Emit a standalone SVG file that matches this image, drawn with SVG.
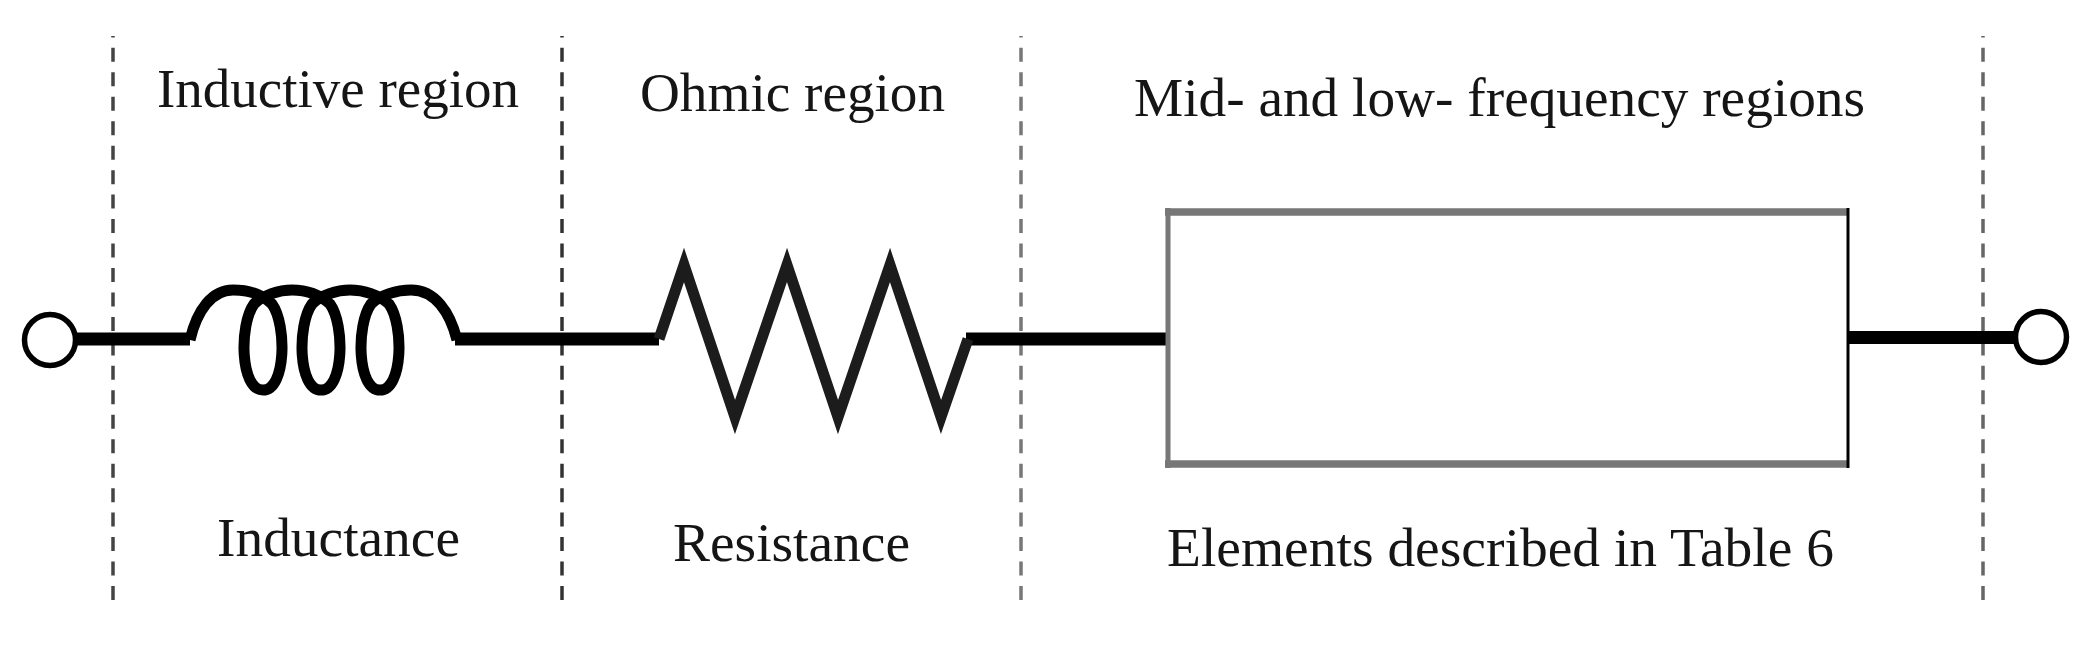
<svg xmlns="http://www.w3.org/2000/svg" width="2088" height="655" viewBox="0 0 2088 655">
<style>
.t{font-family:"Liberation Serif","Times New Roman",serif;font-size:55px;fill:#151515}
.d{fill:none;stroke-width:3.500;stroke-dasharray:14 10.460;stroke-dashoffset:12.600}
.w{fill:none;stroke:#000;stroke-width:13}
.c{fill:#fff;stroke:#000;stroke-width:5.500}
.s{fill:none;stroke:#000;stroke-width:11}
</style>
<rect width="2088" height="655" fill="#fff"/>
<g id="boundaries">
<line class="d" x1="113" y1="36" x2="113" y2="600" stroke="#444"/>
<line class="d" x1="562" y1="36" x2="562" y2="600" stroke="#333"/>
<line class="d" x1="1021" y1="36" x2="1021" y2="600" stroke="#777"/>
<line class="d" x1="1983" y1="36" x2="1983" y2="600" stroke="#666"/>
</g>
<g id="connectors">
<line class="w" x1="76" y1="339" x2="190" y2="339"/>
<line class="w" x1="455" y1="339" x2="659" y2="339"/>
<line class="w" x1="966" y1="339" x2="1167" y2="339"/>
<line class="w" x1="1849" y1="337.500" x2="2016" y2="337.500" stroke-width="15"/>
</g>
<g id="terminal-left"><ellipse class="c" cx="50" cy="340" rx="25.500" ry="25.500"/></g>
<g id="inductor">
<path class="s" d="M190 340C197 310 212 290 233 290C250 290 263 295 272 304C287 325 286 390 263 390C240 390 239 325 254 304C263 295 279 290 292 290C306 290 320 295 330 304C345 325 344 390 321 390C298 390 297 325 312 304C321 295 337 290 350 290C364 290 379 295 389 304C404 325 403 390 380 390C357 390 356 325 371 304C380 295 397 290 411 290C435 290 450 312 457 340"/>
</g>
<g id="resistor">
<path d="M659 339L684 265L735 417L787 265L838 417L890 265L941 417L968 339" fill="none" stroke="#1c1c1c" stroke-width="11" stroke-miterlimit="10"/>
</g>
<g id="element-box">
<rect x="1167" y="212" width="682" height="252" fill="#fff"/>
<path d="M1165 212H1849M1165 464H1849" fill="none" stroke="#777" stroke-width="7.500"/>
<line x1="1168" y1="208" x2="1168" y2="468" stroke="#777" stroke-width="5"/>
<line x1="1848" y1="208" x2="1848" y2="468" stroke="#000" stroke-width="3"/>
</g>
<g id="terminal-right"><ellipse class="c" cx="2041" cy="337" rx="25.500" ry="25.500"/></g>
<g id="labels">
<text class="t" x="157" y="107" textLength="362" lengthAdjust="spacingAndGlyphs">Inductive region</text>
<text class="t" x="640" y="111" textLength="305" lengthAdjust="spacingAndGlyphs">Ohmic region</text>
<text class="t" x="1134" y="116" textLength="731" lengthAdjust="spacingAndGlyphs">Mid- and low- frequency regions</text>
<text class="t" x="217" y="556" textLength="243" lengthAdjust="spacingAndGlyphs">Inductance</text>
<text class="t" x="673" y="561" textLength="237" lengthAdjust="spacingAndGlyphs">Resistance</text>
<text class="t" x="1167" y="566" textLength="667" lengthAdjust="spacingAndGlyphs">Elements described in Table 6</text>
</g>
</svg>
